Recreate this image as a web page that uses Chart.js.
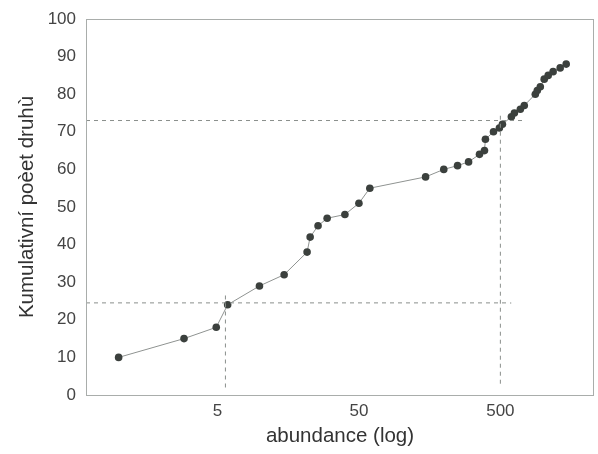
<!DOCTYPE html>
<html lang="cs">
<head>
  <meta charset="UTF-8">
  <title>Kumulativní počet druhů</title>
  <script src="https://cdn.jsdelivr.net/npm/chart.js"></script>
  <style>
    html, body { margin: 0; padding: 0; background: #fff; }
    #wrap { width: 598px; height: 454px; }
  </style>
</head>
<body>
  <div id="wrap">
    <canvas id="curve" width="598" height="454"></canvas>
  </div>
  <script>
    // abundance (x, log scale) and cumulative number of species (y)
    const abundance = [1, 2.9, 4.9, 5.9, 9.9, 14.8, 21.5, 22.6, 25.7, 29.8, 39.8, 50, 59.7,
      148, 199, 249, 298, 356, 386, 392, 447, 492, 517, 598, 628, 692, 738,
      883, 912, 958, 1021, 1089, 1180, 1324, 1460];
    const cumSpecies = [10, 15, 18, 24, 29, 32, 38, 42, 45, 47, 48, 51, 55,
      58, 60, 61, 62, 64, 65, 68, 70, 71, 72, 74, 75, 76, 77,
      80, 81, 82, 84, 85, 86, 87, 88];

    // dashed guide lines
    const guideLow = [{x: 0.588, y: 24.5}, {x: 597, y: 24.5}];
    const guideHigh = [{x: 0.588, y: 73}, {x: 726, y: 73}];
    const guideV1 = [{x: 5.69, y: 2}, {x: 5.69, y: 27}];
    const guideV2 = [{x: 500, y: 3}, {x: 500, y: 75}];

    const xTicks = [5, 50, 500];
    const yTicks = [0, 10, 20, 30, 40, 50, 60, 70, 80, 90, 100];

    const points = abundance.map((a, i) => ({x: a, y: cumSpecies[i]}));

    const dashStyle = {
      borderColor: '#8a8f8c',
      borderWidth: 1,
      borderDash: [4, 4],
      pointRadius: 0,
      fill: false,
      showLine: true
    };

    // box around the plot area
    const frame = {
      id: 'frame',
      afterDraw(chart) {
        const a = chart.chartArea;
        const c = chart.ctx;
        c.save();
        c.strokeStyle = '#a9adab';
        c.lineWidth = 1;
        c.strokeRect(a.left + 0.5, a.top + 0.5, a.right - a.left - 1, a.bottom - a.top);
        c.restore();
      }
    };

    new Chart(document.getElementById('curve').getContext('2d'), {
      type: 'scatter',
      data: {
        datasets: [
          {...dashStyle, data: guideLow},
          {...dashStyle, data: guideHigh},
          {...dashStyle, data: guideV1},
          {...dashStyle, data: guideV2},
          {
            data: points,
            showLine: true,
            borderColor: '#8f9391',
            borderWidth: 1,
            pointRadius: 3.8,
            pointBackgroundColor: '#3b403d',
            pointBorderColor: '#3b403d',
            pointBorderWidth: 0
          }
        ]
      },
      options: {
        responsive: false,
        animation: false,
        layout: { padding: { top: 19, right: 2, left: 0, bottom: 0 } },
        plugins: { legend: { display: false }, tooltip: { enabled: false } },
        scales: {
          x: {
            type: 'logarithmic',
            min: 0.588,
            max: 2296,
            grid: { display: false, tickLength: 4 },
            border: { display: false },
            afterBuildTicks: s => { s.ticks = xTicks.map(v => ({value: v})); },
            afterFit: s => { s.height = 59; },
            ticks: {
              color: '#444',
              font: { family: 'Liberation Sans', size: 17 },
              padding: 2,
              maxRotation: 0,
              callback: v => String(v)
            },
            title: {
              display: true,
              text: 'abundance (log)',
              color: '#333',
              font: { family: 'Liberation Sans', size: 20.5 },
              padding: { top: 4, bottom: 5 }
            }
          },
          y: {
            min: 0,
            max: 100,
            grid: { display: false, tickLength: 4 },
            border: { display: false },
            afterBuildTicks: s => { s.ticks = yTicks.map(v => ({value: v})); },
            afterFit: s => { s.width = 86; },
            ticks: {
              color: '#444',
              font: { family: 'Liberation Sans', size: 17 },
              padding: 6
            },
            title: {
              display: true,
              text: 'Kumulativní poèet druhù',
              color: '#333',
              font: { family: 'Liberation Sans', size: 20.5 },
              padding: { top: 15, bottom: 4 }
            }
          }
        }
      },
      plugins: [frame]
    });
  </script>
</body>
</html>
